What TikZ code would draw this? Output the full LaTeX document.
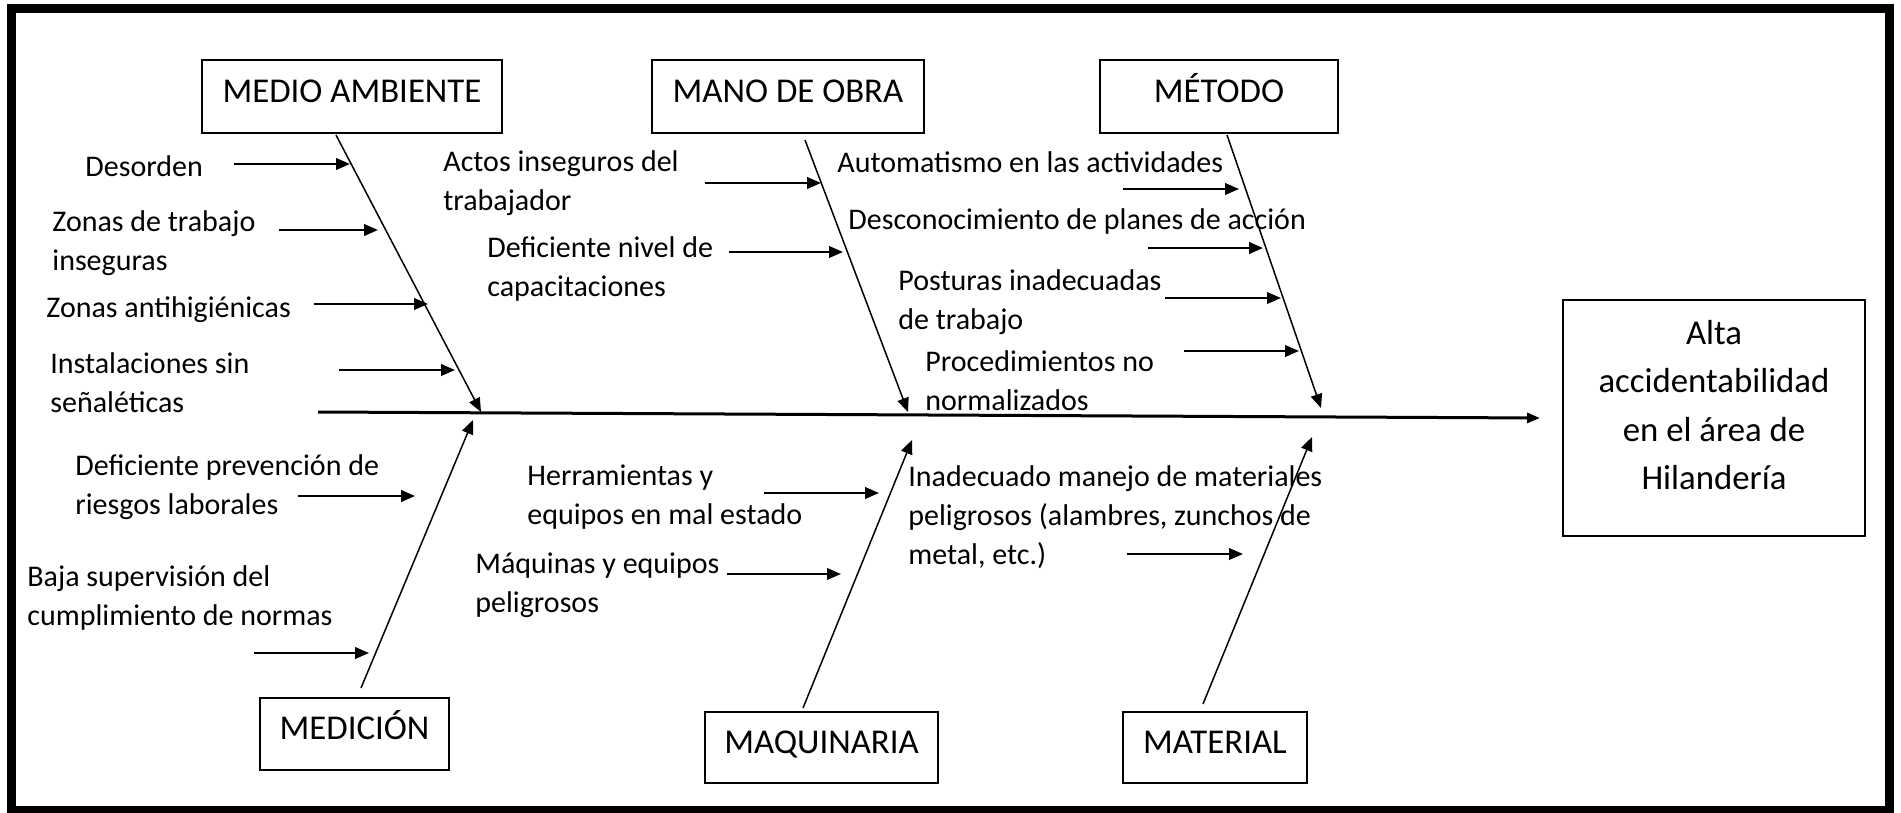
\documentclass[tikz,border=0pt]{standalone}
\usepackage{fontspec}
\setmainfont{Carlito}
\usetikzlibrary{arrows.meta}
\begin{document}
\begin{tikzpicture}[x=0.5pt,y=-0.5pt,
  catbox/.style={draw, line width=0.9pt, inner sep=0pt},
  cattext/.style={font=\fontsize{17.4}{20}\selectfont, text height=11.2pt, text depth=0pt, inner sep=0pt, yshift=2.75pt},
  cause/.style={font=\fontsize{15}{19.5}\selectfont, align=left, anchor=west, inner sep=0pt},
  bone/.style={line width=0.75pt, -{Triangle[length=7pt,width=5.8pt]}},
  subarrow/.style={line width=1pt, -{Triangle[length=7pt,width=5.8pt]}},
  spine/.style={line width=1.5pt, -{Triangle[length=6.5pt,width=5pt]}}
]
\useasboundingbox (0,0) rectangle (1901,813);
\draw[line width=4.5pt] (11,9) rectangle (1889,810);

% category boxes
\node[catbox, minimum width=150pt, minimum height=36.5pt, label={[cattext]center:MEDIO AMBIENTE}] (ma) at (352,96.5) {};
\node[catbox, minimum width=136pt, minimum height=36.5pt, label={[cattext]center:MANO DE OBRA}] (mo) at (788,96.5) {};
\node[catbox, minimum width=119pt, minimum height=36.5pt, label={[cattext]center:MÉTODO}] (me) at (1219,96.5) {};
\node[catbox, minimum width=94.5pt, minimum height=36pt, label={[cattext]center:MEDICIÓN}] (med) at (354.5,734) {};
\node[catbox, minimum width=116.5pt, minimum height=35.5pt, label={[cattext]center:MAQUINARIA}] (maq) at (821.5,747.5) {};
\node[catbox, minimum width=92pt, minimum height=35.5pt, label={[cattext]center:MATERIAL}] (mat) at (1215,747.5) {};

% effect box
\node[catbox, minimum width=151pt, minimum height=118pt,
  label={[font=\fontsize{17.4}{24.2}\selectfont, align=center, inner sep=0pt, yshift=6.5pt]center:{Alta\\accidentabilidad\\en el área de\\Hilandería}}] (eff) at (1714,418) {};

% spine
\coordinate (sp0) at (318,412);
\coordinate (sp1) at (1540,418);
\draw[spine] (sp0) -- (sp1);

% bones
\coordinate (ma0) at (336,135);  \coordinate (ma1) at (481,412);
\coordinate (mo0) at (805,140);  \coordinate (mo1) at (908,412);
\coordinate (me0) at (1227,135); \coordinate (me1) at (1321,408);
\coordinate (md0) at (361,688);  \coordinate (md1) at (473,420);
\coordinate (mq0) at (803,708);  \coordinate (mq1) at (912,440);
\coordinate (mt0) at (1203,704); \coordinate (mt1) at (1312,437);
\draw[bone] (ma0) -- (ma1);
\draw[bone] (mo0) -- (mo1);
\draw[bone] (me0) -- (me1);
\draw[bone] (md0) -- (md1);
\draw[bone] (mq0) -- (mq1);
\draw[bone] (mt0) -- (mt1);

% cause texts
\node[cause] (c1) at (85,166) {Desorden};
\node[cause] (c2) at (52,243) {Zonas de trabajo\\inseguras};
\node[cause] (c3) at (46,310) {Zonas antihigiénicas};
\node[cause] (c4) at (50,383) {Instalaciones sin\\señaléticas};
\node[cause] (c5) at (443,183) {Actos inseguros del\\trabajador};
\node[cause] (c6) at (487,269) {Deficiente nivel de\\capacitaciones};
\node[cause] (c7) at (837,162) {Automatismo en las actividades};
\node[cause] (c8) at (848,222) {Desconocimiento de planes de acción};
\node[cause] (c9) at (898,302) {Posturas inadecuadas\\de trabajo};
\node[cause] (c10) at (925,381) {Procedimientos no\\normalizados};
\node[cause] (c11) at (75,487) {Deficiente prevención de\\riesgos laborales};
\node[cause] (c12) at (27,598) {Baja supervisión del\\cumplimiento de normas};
\node[cause] (c13) at (527,497) {Herramientas y\\equipos en mal estado};
\node[cause] (c14) at (475,585) {Máquinas y equipos\\peligrosos};
\node[cause] (c15) at (908,517) {Inadecuado manejo de materiales\\peligrosos (alambres, zunchos de\\metal, etc.)};

% sub-cause arrows
\coordinate (a1s) at (234,164);  \coordinate (a1e) at (350,164);
\coordinate (a2s) at (279,230);  \coordinate (a2e) at (378,230);
\coordinate (a3s) at (314,304);  \coordinate (a3e) at (428,304);
\coordinate (a4s) at (339,370);  \coordinate (a4e) at (455,370);
\coordinate (a5s) at (705,183);  \coordinate (a5e) at (821,183);
\coordinate (a6s) at (729,252);  \coordinate (a6e) at (843,252);
\coordinate (a7s) at (1123,189); \coordinate (a7e) at (1239,189);
\coordinate (a8s) at (1148,248); \coordinate (a8e) at (1263,248);
\coordinate (a9s) at (1165,298); \coordinate (a9e) at (1281,298);
\coordinate (a10s) at (1184,351); \coordinate (a10e) at (1299,351);
\coordinate (a11s) at (298,496); \coordinate (a11e) at (415,496);
\coordinate (a12s) at (254,653); \coordinate (a12e) at (369,653);
\coordinate (a13s) at (764,493); \coordinate (a13e) at (879,493);
\coordinate (a14s) at (727,574); \coordinate (a14e) at (841,574);
\coordinate (a15s) at (1127,554); \coordinate (a15e) at (1243,554);
\foreach \i in {1,...,15} {\draw[subarrow] (a\i s) -- (a\i e);}
\end{tikzpicture}
\end{document}
